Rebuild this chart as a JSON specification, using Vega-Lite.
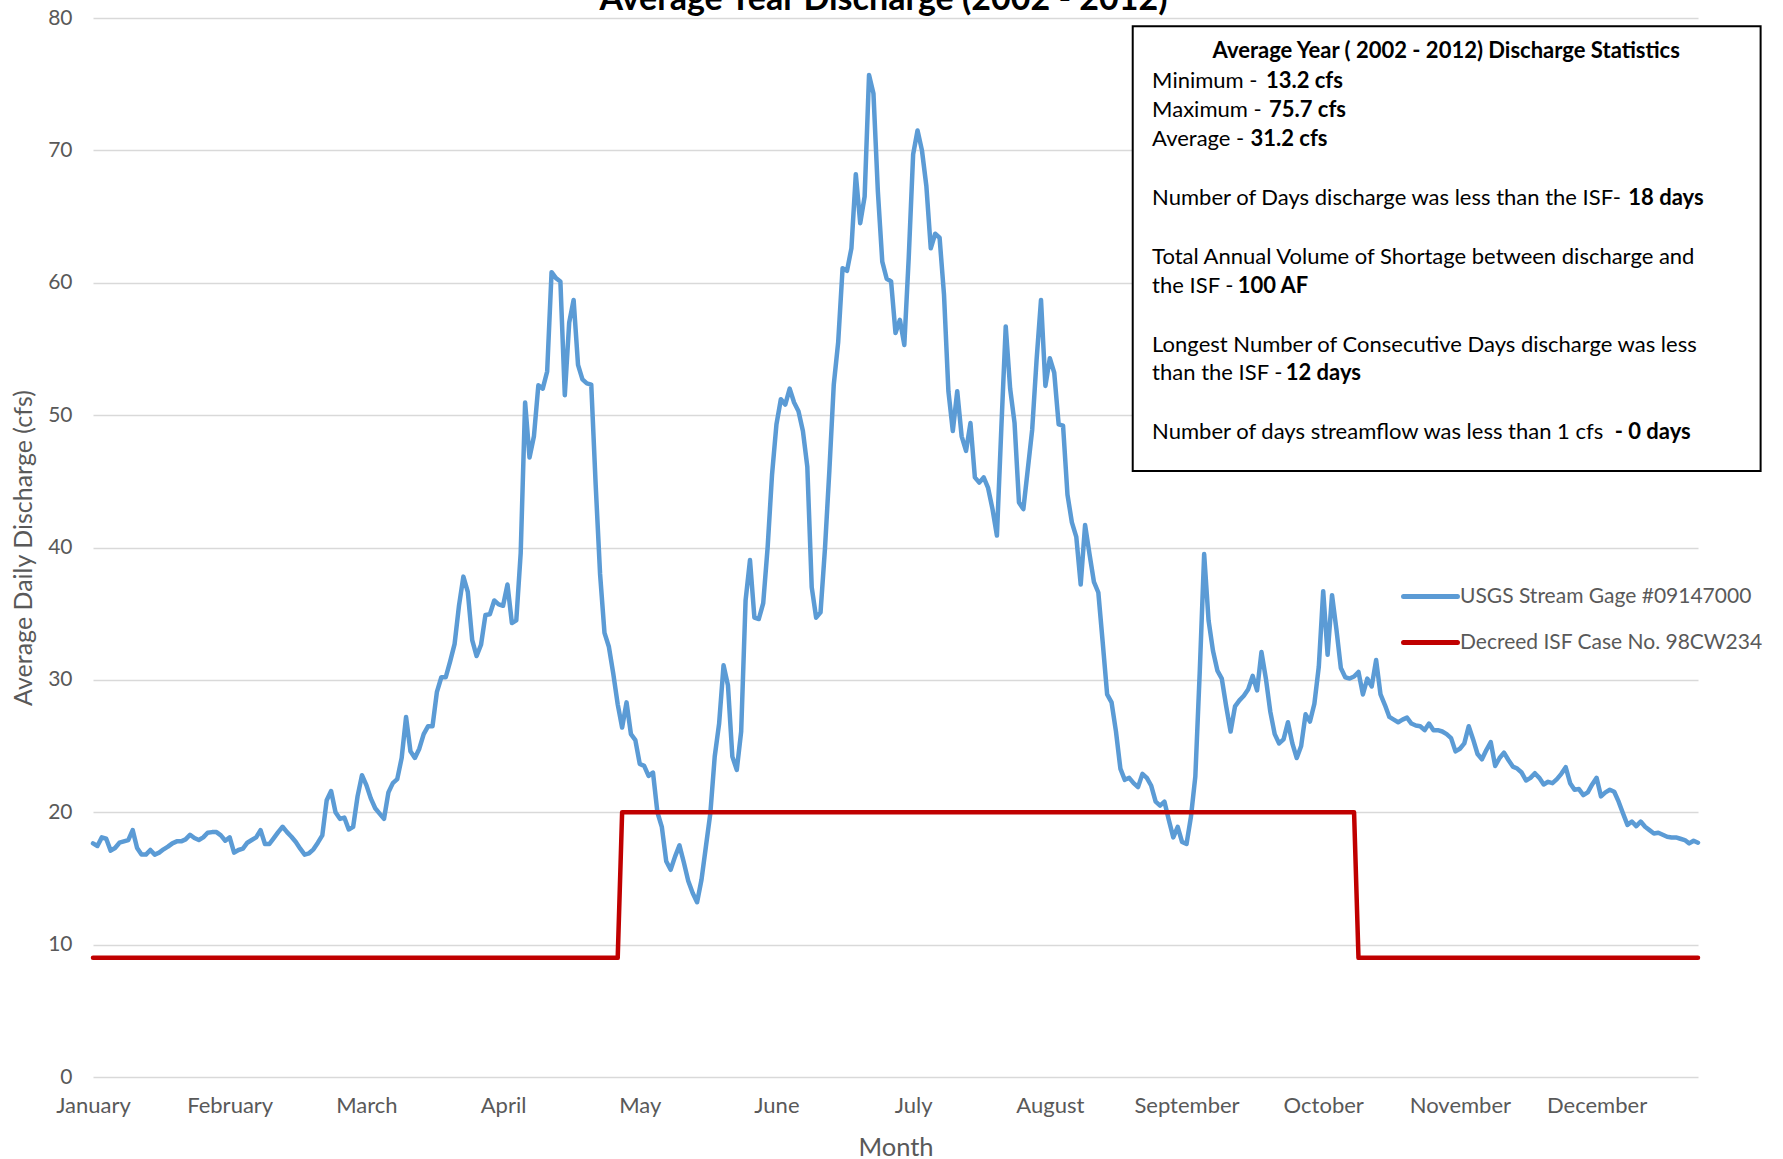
{
"$schema": "https://vega.github.io/schema/vega-lite/v6.json",
"width": 1605, "height": 1059,
"autosize": {"type": "none"},
"padding": {"left": 93, "top": 18, "right": 85, "bottom": 82},
"background": "white",
"title": {"text": "Average Year Discharge (2002 - 2012)", "font": "Lato", "fontSize": 34, "fontWeight": "bold", "color": "#000000", "anchor": "middle", "baseline": "alphabetic", "offset": 0, "dx": -12, "dy": 37},
"config": {"view": {"stroke": null}, "font": "Lato"},
"datasets": {
"flow": [
{"d":1,"q":17.65,"i":9},{"d":2,"q":17.45,"i":9},{"d":3,"q":18.1,"i":9},{"d":4,"q":18.0,"i":9},{"d":5,"q":17.1,"i":9},{"d":6,"q":17.3,"i":9},{"d":7,"q":17.7,"i":9},{"d":8,"q":17.8,"i":9},{"d":9,"q":17.9,"i":9},{"d":10,"q":18.65,"i":9},
{"d":11,"q":17.3,"i":9},{"d":12,"q":16.8,"i":9},{"d":13,"q":16.8,"i":9},{"d":14,"q":17.15,"i":9},{"d":15,"q":16.8,"i":9},{"d":16,"q":16.95,"i":9},{"d":17,"q":17.2,"i":9},{"d":18,"q":17.4,"i":9},{"d":19,"q":17.65,"i":9},{"d":20,"q":17.8,"i":9},
{"d":21,"q":17.8,"i":9},{"d":22,"q":17.95,"i":9},{"d":23,"q":18.3,"i":9},{"d":24,"q":18.05,"i":9},{"d":25,"q":17.9,"i":9},{"d":26,"q":18.1,"i":9},{"d":27,"q":18.45,"i":9},{"d":28,"q":18.5,"i":9},{"d":29,"q":18.5,"i":9},{"d":30,"q":18.25,"i":9},
{"d":31,"q":17.85,"i":9},{"d":32,"q":18.1,"i":9},{"d":33,"q":16.95,"i":9},{"d":34,"q":17.15,"i":9},{"d":35,"q":17.25,"i":9},{"d":36,"q":17.7,"i":9},{"d":37,"q":17.9,"i":9},{"d":38,"q":18.1,"i":9},{"d":39,"q":18.65,"i":9},{"d":40,"q":17.6,"i":9},
{"d":41,"q":17.6,"i":9},{"d":42,"q":18.05,"i":9},{"d":43,"q":18.5,"i":9},{"d":44,"q":18.9,"i":9},{"d":45,"q":18.5,"i":9},{"d":46,"q":18.15,"i":9},{"d":47,"q":17.75,"i":9},{"d":48,"q":17.25,"i":9},{"d":49,"q":16.8,"i":9},{"d":50,"q":16.9,"i":9},
{"d":51,"q":17.2,"i":9},{"d":52,"q":17.7,"i":9},{"d":53,"q":18.25,"i":9},{"d":54,"q":20.9,"i":9},{"d":55,"q":21.6,"i":9},{"d":56,"q":20.0,"i":9},{"d":57,"q":19.5,"i":9},{"d":58,"q":19.6,"i":9},{"d":59,"q":18.7,"i":9},{"d":60,"q":18.9,"i":9},
{"d":61,"q":21.2,"i":9},{"d":62,"q":22.8,"i":9},{"d":63,"q":22.05,"i":9},{"d":64,"q":21.05,"i":9},{"d":65,"q":20.3,"i":9},{"d":66,"q":19.9,"i":9},{"d":67,"q":19.5,"i":9},{"d":68,"q":21.5,"i":9},{"d":69,"q":22.2,"i":9},{"d":70,"q":22.5,"i":9},
{"d":71,"q":24.1,"i":9},{"d":72,"q":27.2,"i":9},{"d":73,"q":24.6,"i":9},{"d":74,"q":24.1,"i":9},{"d":75,"q":24.8,"i":9},{"d":76,"q":25.9,"i":9},{"d":77,"q":26.5,"i":9},{"d":78,"q":26.5,"i":9},{"d":79,"q":29.1,"i":9},{"d":80,"q":30.2,"i":9},
{"d":81,"q":30.2,"i":9},{"d":82,"q":31.4,"i":9},{"d":83,"q":32.7,"i":9},{"d":84,"q":35.6,"i":9},{"d":85,"q":37.8,"i":9},{"d":86,"q":36.65,"i":9},{"d":87,"q":33.0,"i":9},{"d":88,"q":31.8,"i":9},{"d":89,"q":32.65,"i":9},{"d":90,"q":34.9,"i":9},
{"d":91,"q":34.95,"i":9},{"d":92,"q":36.0,"i":9},{"d":93,"q":35.7,"i":9},{"d":94,"q":35.6,"i":9},{"d":95,"q":37.2,"i":9},{"d":96,"q":34.3,"i":9},{"d":97,"q":34.5,"i":9},{"d":98,"q":39.6,"i":9},{"d":99,"q":50.95,"i":9},{"d":100,"q":46.8,"i":9},
{"d":101,"q":48.4,"i":9},{"d":102,"q":52.25,"i":9},{"d":103,"q":52.0,"i":9},{"d":104,"q":53.3,"i":9},{"d":105,"q":60.8,"i":9},{"d":106,"q":60.35,"i":9},{"d":107,"q":60.1,"i":9},{"d":108,"q":51.5,"i":9},{"d":109,"q":57.0,"i":9},{"d":110,"q":58.7,"i":9},
{"d":111,"q":53.8,"i":9},{"d":112,"q":52.7,"i":9},{"d":113,"q":52.4,"i":9},{"d":114,"q":52.3,"i":9},{"d":115,"q":44.75,"i":9},{"d":116,"q":38.0,"i":9},{"d":117,"q":33.55,"i":9},{"d":118,"q":32.5,"i":9},{"d":119,"q":30.45,"i":9},{"d":120,"q":28.15,"i":9},
{"d":121,"q":26.4,"i":20},{"d":122,"q":28.3,"i":20},{"d":123,"q":25.9,"i":20},{"d":124,"q":25.45,"i":20},{"d":125,"q":23.65,"i":20},{"d":126,"q":23.5,"i":20},{"d":127,"q":22.75,"i":20},{"d":128,"q":23.0,"i":20},{"d":129,"q":20.0,"i":20},{"d":130,"q":18.9,"i":20},
{"d":131,"q":16.3,"i":20},{"d":132,"q":15.65,"i":20},{"d":133,"q":16.65,"i":20},{"d":134,"q":17.5,"i":20},{"d":135,"q":16.2,"i":20},{"d":136,"q":14.8,"i":20},{"d":137,"q":13.9,"i":20},{"d":138,"q":13.2,"i":20},{"d":139,"q":14.9,"i":20},{"d":140,"q":17.4,"i":20},
{"d":141,"q":19.9,"i":20},{"d":142,"q":24.2,"i":20},{"d":143,"q":26.7,"i":20},{"d":144,"q":31.1,"i":20},{"d":145,"q":29.6,"i":20},{"d":146,"q":24.2,"i":20},{"d":147,"q":23.2,"i":20},{"d":148,"q":26.1,"i":20},{"d":149,"q":36.0,"i":20},{"d":150,"q":39.05,"i":20},
{"d":151,"q":34.7,"i":20},{"d":152,"q":34.6,"i":20},{"d":153,"q":35.8,"i":20},{"d":154,"q":40.0,"i":20},{"d":155,"q":45.5,"i":20},{"d":156,"q":49.3,"i":20},{"d":157,"q":51.2,"i":20},{"d":158,"q":50.8,"i":20},{"d":159,"q":52.0,"i":20},{"d":160,"q":50.95,"i":20},
{"d":161,"q":50.3,"i":20},{"d":162,"q":48.8,"i":20},{"d":163,"q":46.1,"i":20},{"d":164,"q":37.0,"i":20},{"d":165,"q":34.7,"i":20},{"d":166,"q":35.1,"i":20},{"d":167,"q":39.9,"i":20},{"d":168,"q":45.8,"i":20},{"d":169,"q":52.3,"i":20},{"d":170,"q":55.5,"i":20},
{"d":171,"q":61.1,"i":20},{"d":172,"q":60.9,"i":20},{"d":173,"q":62.6,"i":20},{"d":174,"q":68.2,"i":20},{"d":175,"q":64.5,"i":20},{"d":176,"q":66.5,"i":20},{"d":177,"q":75.7,"i":20},{"d":178,"q":74.3,"i":20},{"d":179,"q":66.9,"i":20},{"d":180,"q":61.6,"i":20},
{"d":181,"q":60.3,"i":20},{"d":182,"q":60.1,"i":20},{"d":183,"q":56.2,"i":20},{"d":184,"q":57.2,"i":20},{"d":185,"q":55.3,"i":20},{"d":186,"q":61.9,"i":20},{"d":187,"q":69.7,"i":20},{"d":188,"q":71.5,"i":20},{"d":189,"q":70.0,"i":20},{"d":190,"q":67.3,"i":20},
{"d":191,"q":62.6,"i":20},{"d":192,"q":63.7,"i":20},{"d":193,"q":63.4,"i":20},{"d":194,"q":59.1,"i":20},{"d":195,"q":51.8,"i":20},{"d":196,"q":48.8,"i":20},{"d":197,"q":51.8,"i":20},{"d":198,"q":48.4,"i":20},{"d":199,"q":47.3,"i":20},{"d":200,"q":49.4,"i":20},
{"d":201,"q":45.3,"i":20},{"d":202,"q":44.9,"i":20},{"d":203,"q":45.3,"i":20},{"d":204,"q":44.5,"i":20},{"d":205,"q":42.9,"i":20},{"d":206,"q":40.9,"i":20},{"d":207,"q":49.0,"i":20},{"d":208,"q":56.7,"i":20},{"d":209,"q":52.0,"i":20},{"d":210,"q":49.4,"i":20},
{"d":211,"q":43.4,"i":20},{"d":212,"q":42.9,"i":20},{"d":213,"q":45.9,"i":20},{"d":214,"q":48.9,"i":20},{"d":215,"q":54.2,"i":20},{"d":216,"q":58.7,"i":20},{"d":217,"q":52.2,"i":20},{"d":218,"q":54.3,"i":20},{"d":219,"q":53.2,"i":20},{"d":220,"q":49.3,"i":20},
{"d":221,"q":49.2,"i":20},{"d":222,"q":44.0,"i":20},{"d":223,"q":41.9,"i":20},{"d":224,"q":40.8,"i":20},{"d":225,"q":37.2,"i":20},{"d":226,"q":41.7,"i":20},{"d":227,"q":39.5,"i":20},{"d":228,"q":37.4,"i":20},{"d":229,"q":36.6,"i":20},{"d":230,"q":32.8,"i":20},
{"d":231,"q":28.9,"i":20},{"d":232,"q":28.3,"i":20},{"d":233,"q":26.1,"i":20},{"d":234,"q":23.3,"i":20},{"d":235,"q":22.45,"i":20},{"d":236,"q":22.6,"i":20},{"d":237,"q":22.2,"i":20},{"d":238,"q":21.9,"i":20},{"d":239,"q":22.9,"i":20},{"d":240,"q":22.6,"i":20},
{"d":241,"q":22.0,"i":20},{"d":242,"q":20.8,"i":20},{"d":243,"q":20.5,"i":20},{"d":244,"q":20.8,"i":20},{"d":245,"q":19.4,"i":20},{"d":246,"q":18.1,"i":20},{"d":247,"q":18.9,"i":20},{"d":248,"q":17.75,"i":20},{"d":249,"q":17.6,"i":20},{"d":250,"q":19.65,"i":20},
{"d":251,"q":22.7,"i":20},{"d":252,"q":30.6,"i":20},{"d":253,"q":39.5,"i":20},{"d":254,"q":34.5,"i":20},{"d":255,"q":32.2,"i":20},{"d":256,"q":30.7,"i":20},{"d":257,"q":30.1,"i":20},{"d":258,"q":28.0,"i":20},{"d":259,"q":26.1,"i":20},{"d":260,"q":28.0,"i":20},
{"d":261,"q":28.45,"i":20},{"d":262,"q":28.8,"i":20},{"d":263,"q":29.3,"i":20},{"d":264,"q":30.3,"i":20},{"d":265,"q":29.2,"i":20},{"d":266,"q":32.1,"i":20},{"d":267,"q":30.1,"i":20},{"d":268,"q":27.6,"i":20},{"d":269,"q":25.9,"i":20},{"d":270,"q":25.2,"i":20},
{"d":271,"q":25.5,"i":20},{"d":272,"q":26.8,"i":20},{"d":273,"q":25.2,"i":20},{"d":274,"q":24.1,"i":20},{"d":275,"q":25.0,"i":20},{"d":276,"q":27.4,"i":20},{"d":277,"q":26.85,"i":20},{"d":278,"q":28.2,"i":20},{"d":279,"q":31.0,"i":20},{"d":280,"q":36.7,"i":20},
{"d":281,"q":31.9,"i":20},{"d":282,"q":36.4,"i":20},{"d":283,"q":33.8,"i":20},{"d":284,"q":30.9,"i":20},{"d":285,"q":30.2,"i":20},{"d":286,"q":30.1,"i":20},{"d":287,"q":30.25,"i":20},{"d":288,"q":30.6,"i":9},{"d":289,"q":28.9,"i":9},{"d":290,"q":30.1,"i":9},
{"d":291,"q":29.5,"i":9},{"d":292,"q":31.5,"i":9},{"d":293,"q":28.9,"i":9},{"d":294,"q":28.1,"i":9},{"d":295,"q":27.2,"i":9},{"d":296,"q":27.0,"i":9},{"d":297,"q":26.8,"i":9},{"d":298,"q":27.0,"i":9},{"d":299,"q":27.15,"i":9},{"d":300,"q":26.7,"i":9},
{"d":301,"q":26.55,"i":9},{"d":302,"q":26.5,"i":9},{"d":303,"q":26.2,"i":9},{"d":304,"q":26.7,"i":9},{"d":305,"q":26.2,"i":9},{"d":306,"q":26.2,"i":9},{"d":307,"q":26.1,"i":9},{"d":308,"q":25.9,"i":9},{"d":309,"q":25.6,"i":9},{"d":310,"q":24.6,"i":9},
{"d":311,"q":24.8,"i":9},{"d":312,"q":25.2,"i":9},{"d":313,"q":26.5,"i":9},{"d":314,"q":25.5,"i":9},{"d":315,"q":24.4,"i":9},{"d":316,"q":24.0,"i":9},{"d":317,"q":24.7,"i":9},{"d":318,"q":25.3,"i":9},{"d":319,"q":23.5,"i":9},{"d":320,"q":24.1,"i":9},
{"d":321,"q":24.5,"i":9},{"d":322,"q":23.95,"i":9},{"d":323,"q":23.45,"i":9},{"d":324,"q":23.3,"i":9},{"d":325,"q":23.0,"i":9},{"d":326,"q":22.4,"i":9},{"d":327,"q":22.6,"i":9},{"d":328,"q":22.95,"i":9},{"d":329,"q":22.6,"i":9},{"d":330,"q":22.1,"i":9},
{"d":331,"q":22.3,"i":9},{"d":332,"q":22.2,"i":9},{"d":333,"q":22.5,"i":9},{"d":334,"q":22.9,"i":9},{"d":335,"q":23.4,"i":9},{"d":336,"q":22.2,"i":9},{"d":337,"q":21.7,"i":9},{"d":338,"q":21.75,"i":9},{"d":339,"q":21.3,"i":9},{"d":340,"q":21.5,"i":9},
{"d":341,"q":22.1,"i":9},{"d":342,"q":22.6,"i":9},{"d":343,"q":21.2,"i":9},{"d":344,"q":21.5,"i":9},{"d":345,"q":21.7,"i":9},{"d":346,"q":21.55,"i":9},{"d":347,"q":20.8,"i":9},{"d":348,"q":19.9,"i":9},{"d":349,"q":19.05,"i":9},{"d":350,"q":19.3,"i":9},
{"d":351,"q":18.95,"i":9},{"d":352,"q":19.3,"i":9},{"d":353,"q":18.9,"i":9},{"d":354,"q":18.65,"i":9},{"d":355,"q":18.4,"i":9},{"d":356,"q":18.45,"i":9},{"d":357,"q":18.3,"i":9},{"d":358,"q":18.15,"i":9},{"d":359,"q":18.1,"i":9},{"d":360,"q":18.1,"i":9},
{"d":361,"q":18.0,"i":9},{"d":362,"q":17.9,"i":9},{"d":363,"q":17.65,"i":9},{"d":364,"q":17.85,"i":9},{"d":365,"q":17.7,"i":9}
],
"box": [{"x1": 236.8, "x2": 379.2, "y1": 79.38, "y2": 45.77}],
"head": [{"x": 307.9, "y": 77.52, "t": "Average Year ( 2002 - 2012) Discharge Statistics"}],
"txt": [
{"x": 241.2, "y": 75.23, "t": "Minimum -"},
{"x": 241.2, "y": 73.04, "t": "Maximum -"},
{"x": 241.2, "y": 70.85, "t": "Average -"},
{"x": 241.2, "y": 66.41, "t": "Number of Days discharge was less than the ISF-"},
{"x": 241.2, "y": 61.96, "t": "Total Annual Volume of Shortage between discharge and"},
{"x": 241.2, "y": 59.77, "t": "the ISF -"},
{"x": 241.2, "y": 55.29, "t": "Longest Number of Consecutive Days discharge was less"},
{"x": 241.2, "y": 53.15, "t": "than the ISF -"},
{"x": 241.2, "y": 48.69, "t": "Number of days streamflow was less than 1 cfs"}
],
"txtb": [
{"x": 267.0, "y": 75.23, "t": "13.2 cfs"},
{"x": 267.7, "y": 73.04, "t": "75.7 cfs"},
{"x": 263.5, "y": 70.85, "t": "31.2 cfs"},
{"x": 349.2, "y": 66.41, "t": "18 days"},
{"x": 260.6, "y": 59.77, "t": "100 AF"},
{"x": 271.5, "y": 53.15, "t": "12 days"},
{"x": 346.1, "y": 48.69, "t": "- 0 days"}
]
},
"layer": [
{
"data": {"name": "flow"},
"transform": [{"fold": ["q", "i"], "as": ["s", "v"]}],
"mark": {"type": "line", "strokeWidth": 4.5, "strokeJoin": "round", "strokeCap": "round"},
"encoding": {
"x": {"field": "d", "type": "quantitative", "title": "Month", "scale": {"domain": [1, 365], "nice": false, "zero": false},
"axis": {"title": "Month", "values": [1, 32, 63, 94, 125, 156, 187, 218, 249, 280, 311, 342],
"labelExpr": "['January','February','March','April','May','June','July','August','September','October','November','December'][round((datum.value - 1) / 31)]",
"grid": false, "domain": false, "ticks": false, "labelFontSize": 22, "labelColor": "#595959", "labelPadding": 18, "labelFont": "Lato", "labelFlush": false,
"titleFontSize": 25.5, "titleColor": "#595959", "titleFontWeight": "normal", "titleFont": "Lato", "titlePadding": 19, "labelOverlap": false}},
"y": {"field": "v", "type": "quantitative", "title": "Average Daily Discharge (cfs)", "scale": {"domain": [0, 80], "nice": false},
"axis": {"title": "Average Daily Discharge (cfs)", "values": [0, 10, 20, 30, 40, 50, 60, 70, 80], "grid": true, "gridColor": "#D9D9D9", "gridWidth": 1.5,
"domain": false, "ticks": false, "labelFontSize": 21, "labelColor": "#595959", "labelPadding": 21, "labelFont": "Lato",
"titleFontSize": 25, "titleColor": "#595959", "titleFontWeight": "normal", "titleFont": "Lato", "titlePadding": 11}},
"color": {"field": "s", "type": "nominal", "scale": {"domain": ["q", "i"], "range": ["#5B9BD5", "#C00000"]},
"legend": {"title": null, "orient": "none", "legendX": 1327, "legendY": 568, "padding": 0,
"symbolType": "M-4,0H4", "symbolSize": 182, "symbolStrokeWidth": 5, "rowPadding": 24, "labelOffset": 19, "labelLimit": 500,
"labelFontSize": 21, "labelColor": "#595959", "labelFont": "Lato",
"labelExpr": "datum.value === 'q' ? 'USGS Stream Gage #09147000' : 'Decreed ISF Case No. 98CW234'",
"encode": {"symbols": {"update": {"strokeCap": {"value": "round"}}}}}}
}
},
{
"data": {"name": "box"},
"mark": {"type": "rect", "fill": "white", "stroke": "black", "strokeWidth": 2},
"encoding": {
"x": {"field": "x1", "type": "quantitative", "title": "Month"},
"x2": {"field": "x2"},
"y": {"field": "y1", "type": "quantitative", "title": "Average Daily Discharge (cfs)"},
"y2": {"field": "y2"}
}
},
{
"data": {"name": "head"},
"mark": {"type": "text", "align": "center", "baseline": "middle", "font": "Lato", "fontSize": 22, "fontWeight": "bold", "color": "black"},
"encoding": {
"x": {"field": "x", "type": "quantitative", "title": "Month"},
"y": {"field": "y", "type": "quantitative", "title": "Average Daily Discharge (cfs)"},
"text": {"field": "t"}
}
},
{
"data": {"name": "txt"},
"mark": {"type": "text", "align": "left", "baseline": "middle", "font": "Lato", "fontSize": 22, "color": "black"},
"encoding": {
"x": {"field": "x", "type": "quantitative", "title": "Month"},
"y": {"field": "y", "type": "quantitative", "title": "Average Daily Discharge (cfs)"},
"text": {"field": "t"}
}
},
{
"data": {"name": "txtb"},
"mark": {"type": "text", "align": "left", "baseline": "middle", "font": "Lato", "fontSize": 22, "fontWeight": "bold", "color": "black"},
"encoding": {
"x": {"field": "x", "type": "quantitative", "title": "Month"},
"y": {"field": "y", "type": "quantitative", "title": "Average Daily Discharge (cfs)"},
"text": {"field": "t"}
}
}
]
}
